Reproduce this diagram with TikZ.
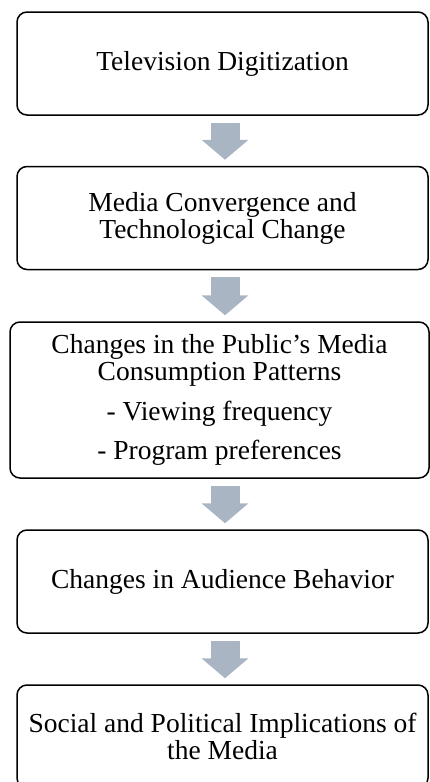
\documentclass[tikz,border=0pt]{standalone}
\usepackage{fontspec}
\setmainfont{Liberation Serif}
\usetikzlibrary{arrows.meta}
\definecolor{arrowgray}{RGB}{170,181,196}

\begin{document}
\begin{tikzpicture}[x=1pt,y=1pt,
        box/.style={draw, line width=1.5pt, rounded corners=10pt, align=center,
            minimum width=411pt, minimum height=103pt, inner sep=0pt,
            font=\fontsize{27.5}{27}\selectfont},
        flowarrow/.style={color=arrowgray, line width=29pt,
            -{Triangle[width=46pt,length=20pt]}, shorten <=7pt, shorten >=6pt}]
        % 画布大小
        \useasboundingbox (0,0) rectangle (430,-782);
        \clip (0,0) rectangle (430,-782);

        % 画出各个方框
        \node[box] (tv) at (222.5,-63.5) {Television Digitization};
        \node[box] (conv) at (222.5,-218) {Media Convergence and\\Technological Change};
        \node[box, minimum width=419pt, minimum height=156pt] (cons) at (219.5,-400)
            {Changes in the Public’s Media\\Consumption Patterns\\[13pt]
             - Viewing frequency\\[12pt]- Program preferences};
        \node[box] (aud) at (222.5,-581.5) {Changes in Audience Behavior};
        \node[box] (soc) at (222.5,-736.5) {Social and Political Implications of\\the Media};

        % 方框之间的箭头
        \coordinate (ax) at (225,0);
        \foreach \a/\b in {tv/conv, conv/cons, cons/aud, aud/soc} {
            \draw[flowarrow] (\a.south -| ax) -- (\b.north -| ax);
        }
    \end{tikzpicture}
\end{document}
